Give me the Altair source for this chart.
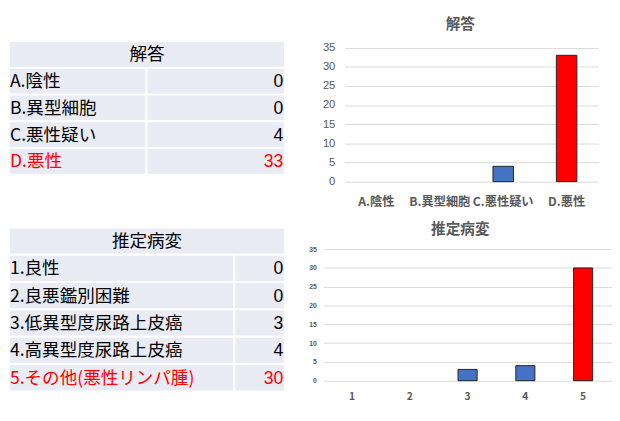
import altair as alt
import pandas as pd

# ---------------- data ----------------
title1 = "解答"
cats1 = ["A.陰性", "B.異型細胞", "C.悪性疑い", "D.悪性"]
vals1 = [0, 0, 4, 33]
correct1 = "D.悪性"

title2 = "推定病変"
labels2 = ["1.良性", "2.良悪鑑別困難", "3.低異型度尿路上皮癌", "4.高異型度尿路上皮癌", "5.その他(悪性リンパ腫)"]
cats2 = ["1", "2", "3", "4", "5"]
vals2 = [0, 0, 3, 4, 30]
correct2 = "5"

y_ticks = [0, 5, 10, 15, 20, 25, 30, 35]

JP = "Noto Sans CJK JP"
NUM = "Liberation Sans"
GRAY = "#595959"
BLUE = "#4472C4"
RED = "#FF0000"


def table_df(header, labels, values, correct_label, split):
    rows = [dict(row=0, x0=0.0, x1=1.0, kind="header", text=header, hl=0)]
    for i, (lab, v) in enumerate(zip(labels, values)):
        hl = 1 if lab == correct_label else 0
        rows.append(dict(row=i + 1, x0=0.0, x1=split, kind="label", text=lab, hl=hl))
        rows.append(dict(row=i + 1, x0=split, x1=1.0, kind="value", text=str(v), hl=hl))
    return pd.DataFrame(rows)


def table_chart(df, width, height, fs):
    xs = alt.Scale(domain=[0, 1], nice=False, zero=False)
    ys = alt.Scale(paddingInner=0, paddingOuter=0)
    base = alt.Chart(df).encode(y=alt.Y("row:O", axis=None, scale=ys))
    tcolor = alt.condition(alt.datum.hl == 1, alt.value(RED), alt.value("#000000"))
    rect = base.mark_rect(fill="#E9EBF5", stroke="white", strokeWidth=2).encode(
        x=alt.X("x0:Q", scale=xs, axis=None), x2="x1:Q"
    )
    head = base.transform_filter("datum.kind == 'header'").transform_calculate(
        xm="(datum.x0 + datum.x1) / 2"
    ).mark_text(align="center", baseline="middle", fontSize=fs, font=JP, dy=1).encode(
        x=alt.X("xm:Q", scale=xs, axis=None), text="text:N", color=tcolor
    )
    lab = base.transform_filter("datum.kind == 'label'").mark_text(
        align="left", baseline="middle", fontSize=fs, font=JP, dx=1, dy=1
    ).encode(x=alt.X("x0:Q", scale=xs, axis=None), text="text:N", color=tcolor)
    val = base.transform_filter("datum.kind == 'value'").mark_text(
        align="right", baseline="middle", fontSize=fs, font=NUM, dx=-2, dy=1
    ).encode(x=alt.X("x1:Q", scale=xs, axis=None), text="text:N", color=tcolor)
    return alt.layer(rect, head, lab, val).properties(width=width, height=height)


def bar_chart(cats, vals, correct, title, width, height, ymax, pin,
              yfs, ypad, xfs, xpad, tfs, toff, tdy):
    df = pd.DataFrame({"cat": cats, "val": vals})
    df["hl"] = [1 if c == correct else 0 for c in cats]
    return alt.Chart(
        df,
        title=alt.TitleParams(title, fontSize=tfs, fontWeight="bold", color=GRAY,
                              font=JP, anchor="middle", frame="bounds",
                              offset=toff, dy=tdy),
    ).transform_filter("datum.val > 0").mark_bar(stroke="#222222", strokeWidth=1).encode(
        x=alt.X("cat:N", sort=cats, title=None,
                scale=alt.Scale(domain=cats, paddingInner=pin, paddingOuter=pin / 2),
                axis=alt.Axis(labelAngle=0, domain=False, ticks=False, labelFont=JP,
                              labelFontWeight="bold", labelFontSize=xfs, labelColor=GRAY,
                              labelPadding=xpad)),
        y=alt.Y("val:Q", title=None,
                scale=alt.Scale(domain=[0, ymax], nice=False, zero=True),
                axis=alt.Axis(values=y_ticks, domain=False, ticks=False, grid=True,
                              gridColor="#D9D9D9", gridWidth=1, labelFont=NUM,
                              labelFontSize=yfs, labelColor=GRAY, labelPadding=ypad,
                              labelFontWeight="bold" if yfs < 9 else "normal")),
        color=alt.condition(alt.datum.hl == 1, alt.value(RED), alt.value(BLUE)),
    ).properties(width=width, height=height)


t1 = table_chart(table_df(title1, cats1, vals1, correct1, 0.498), 283, 137, 18)
t2 = table_chart(table_df(title2, labels2, vals2, labels2[cats2.index(correct2)], 0.816),
                 283, 168, 18)

b1 = bar_chart(cats1, vals1, correct1, title1, 260, 144, 36.7, 0.677,
               11.5, 10, 12.5, 14, 15, 9, 0)
b2 = bar_chart(cats2, vals2, correct2, title2, 296, 157, 40.75, 0.67,
               7, 7, 10.5, 11, 15, 0, 10)

row1 = alt.hconcat(t1, b1, spacing=37)
row2 = alt.hconcat(t2, b2, spacing=23)

chart = alt.vconcat(row1, row2, spacing=15).properties(
    padding={"left": 0, "top": 5, "right": 0, "bottom": 0},
    background="white",
).configure_view(stroke=None)

chart.save("out.html", embed_options={"renderer": "svg", "actions": False})
